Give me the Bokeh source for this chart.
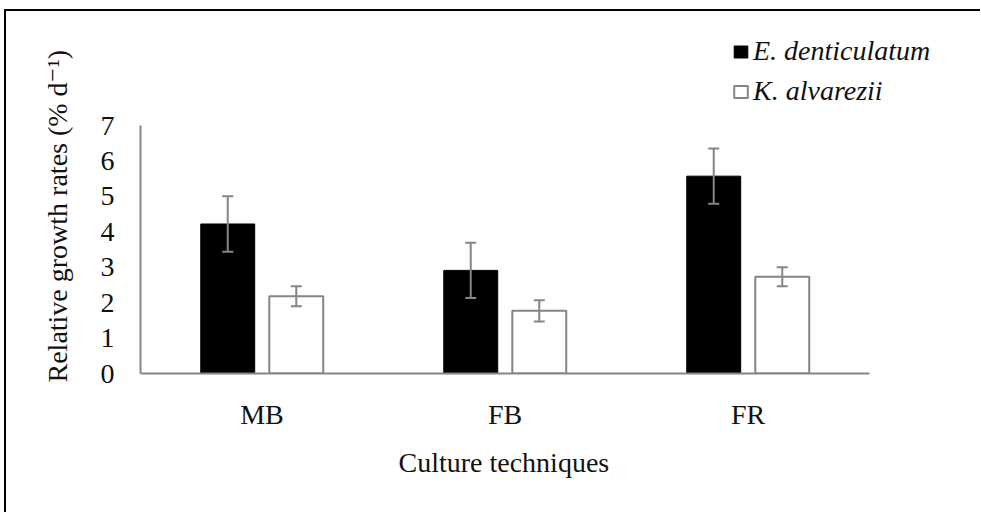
from bokeh.plotting import figure
from bokeh.models import (ColumnDataSource, Range1d, FixedTicker, Whisker, TeeHead,
                          Legend, LegendItem, LinearAxis, Title, Div)
from bokeh.layouts import column, row
from bokeh.embed import file_html
from bokeh.resources import INLINE

categories = ["MB", "FB", "FR"]
e_dent = [4.22, 2.91, 5.57]
e_dent_err = [0.78, 0.78, 0.78]
k_alv = [2.18, 1.77, 2.73]
k_alv_err = [0.28, 0.30, 0.27]
series_names = ["E. denticulatum", "K. alvarezii"]
y_ticks = [0, 1, 2, 3, 4, 5, 6, 7]
y_max = 7
n_cat = len(categories)
x_title = "Culture techniques"
y_title = "Relative growth rates (%  d\u207b\u00b9)"

FONT = "'Liberation Serif', 'Times New Roman', 'DejaVu Serif', serif"
FS = "28px"
GRAY = "#858585"
TXT = "#111111"
offset = 0.141
bar_w = 0.222

# layout (pixels)
W, H = 974, 501
left_b, right_b, top_b, frame_bottom = 134, 10, 8, 362
bottom_b = H - frame_bottom
frame_w, frame_h = W - left_b - right_b, frame_bottom - top_b
plot_w_px, plot_h_px = 729, 248   # pixel span of the 3 categories / of 0..7

centers = [i + 0.5 for i in range(n_cat)]
src_e = ColumnDataSource(dict(
    x=[c - offset for c in centers], top=e_dent,
    upper=[v + e for v, e in zip(e_dent, e_dent_err)],
    lower=[v - e for v, e in zip(e_dent, e_dent_err)]))
src_k = ColumnDataSource(dict(
    x=[c + offset for c in centers], top=k_alv,
    upper=[v + e for v, e in zip(k_alv, k_alv_err)],
    lower=[v - e for v, e in zip(k_alv, k_alv_err)]))

p = figure(width=W, height=H, output_backend="svg", toolbar_location=None,
           x_range=Range1d(0, n_cat * frame_w / plot_w_px),
           y_range=Range1d(0, y_max * frame_h / plot_h_px),
           min_border=0, min_border_left=left_b, min_border_right=right_b,
           min_border_top=top_b, min_border_bottom=bottom_b,
           x_axis_location=None, y_axis_location=None)
p.outline_line_color = None
p.xgrid.visible = False
p.ygrid.visible = False

r_e = p.vbar(x="x", top="top", width=bar_w, source=src_e,
             fill_color="black", line_color="black", line_width=1)
r_k = p.vbar(x="x", top="top", width=bar_w, source=src_k,
             fill_color="white", line_color=GRAY, line_width=2)

for src in (src_e, src_k):
    w = Whisker(base="x", upper="upper", lower="lower", source=src,
                line_color=GRAY, line_width=2, level="annotation",
                upper_head=TeeHead(size=11, line_color=GRAY, line_width=2),
                lower_head=TeeHead(size=11, line_color=GRAY, line_width=2))
    p.add_layout(w)


def style(ax):
    ax.axis_line_color = GRAY
    ax.axis_line_width = 2
    ax.major_tick_line_color = None
    ax.minor_tick_line_color = None
    ax.major_label_text_font = FONT
    ax.major_label_text_font_size = FS
    ax.major_label_text_color = TXT


yax = LinearAxis(ticker=FixedTicker(ticks=y_ticks), bounds=(0, y_max))
style(yax)
yax.major_label_standoff = 20
p.add_layout(yax, "left")

xax = LinearAxis(ticker=FixedTicker(ticks=centers), bounds=(0, n_cat))
style(xax)
xax.major_label_overrides = {c: n for c, n in zip(centers, categories)}
xax.major_label_standoff = 19
p.add_layout(xax, "below")

# axis titles placed as in the reference (not centred on the frame)
p.add_layout(Title(text=y_title, align="left", offset=-9, standoff=50,
                   text_font=FONT, text_font_size=FS, text_font_style="normal",
                   text_color=TXT), "left")
p.add_layout(Title(text=x_title, align="left", offset=258, standoff=25,
                   text_font=FONT, text_font_size=FS, text_font_style="normal",
                   text_color=TXT), "below")

legend = Legend(items=[LegendItem(label=series_names[0], renderers=[r_e]),
                       LegendItem(label=series_names[1], renderers=[r_k])],
                location=(592, 266), padding=0, margin=0, spacing=8,
                glyph_width=17, glyph_height=15, label_standoff=4,
                label_text_font=FONT, label_text_font_style="italic",
                label_text_font_size=FS, label_text_color=TXT,
                border_line_color=None, background_fill_alpha=0)
p.add_layout(legend, "center")

# the picture's frame lines (top and left edges)
top_line = Div(text="", width=W + 2, height=2, background="black", margin=(9, 0, 0, 4))
left_line = Div(text="", width=2, height=H, background="black", margin=(0, 0, 0, 4))
page = column(top_line, row(left_line, p, spacing=0), spacing=0)

open("out.html", "w").write(file_html(page, INLINE))
